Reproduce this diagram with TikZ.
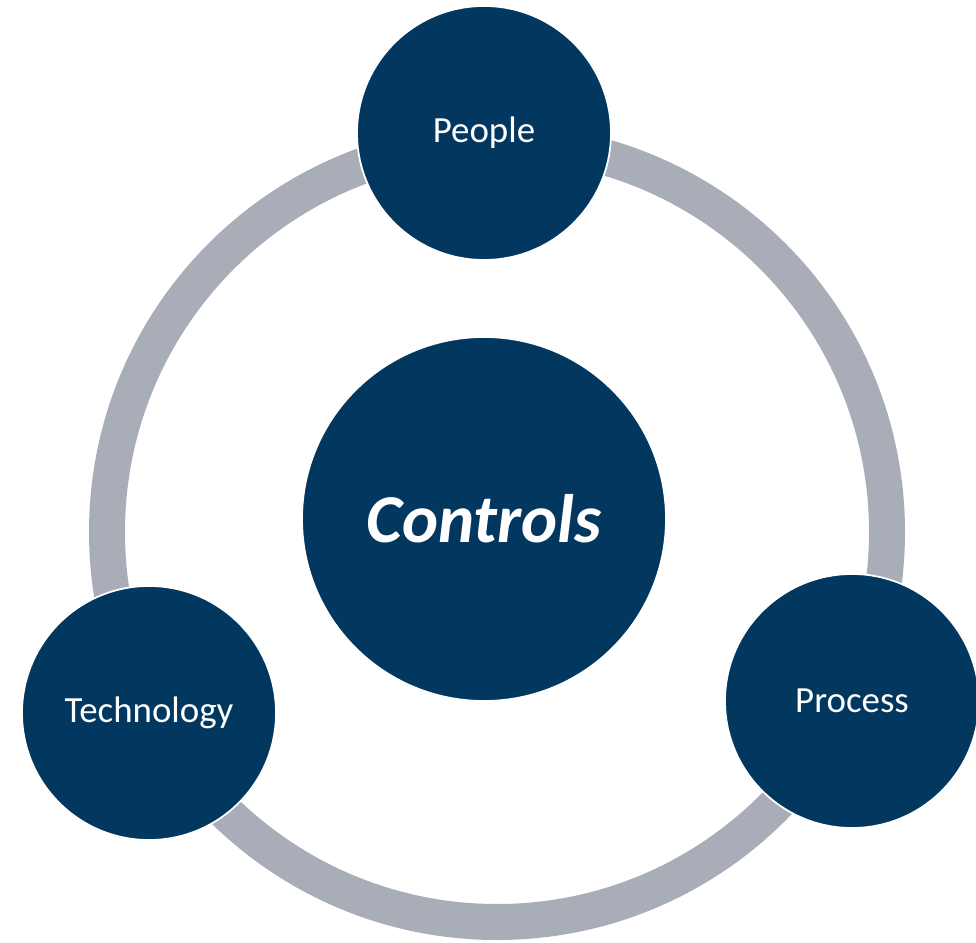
\documentclass[tikz,border=0pt]{standalone}
\usepackage{fontspec}
\setmainfont{Carlito}
\definecolor{navy}{HTML}{02375F}
\definecolor{ringgray}{HTML}{A9ADB7}
\tikzset{
	pillar/.style={circle,fill=navy,draw=white,line width=1pt,minimum size=5.08cm,inner sep=0pt,text=white,font=\fontsize{21}{25}\selectfont},
	core/.style={circle,fill=navy,draw=white,line width=1pt,minimum size=7.28cm,inner sep=0pt,text=white,font=\fontsize{39}{45}\selectfont\bfseries\itshape}
}

\begin{document}
\begin{tikzpicture}
	\useasboundingbox (0,0) rectangle (19.52,18.84);
	\draw[ringgray,line width=0.72cm] (9.94,8.2) circle (7.8);
	
	\node[core] (controls) at (9.68,8.46) {Controls};
	\node[pillar] (people) at (9.68,16.18) {People};
	\node[pillar] (technology) at (2.98,4.58) {Technology};
	\node[pillar] (process) at (17.04,4.82) {Process};
\end{tikzpicture}
\end{document}
